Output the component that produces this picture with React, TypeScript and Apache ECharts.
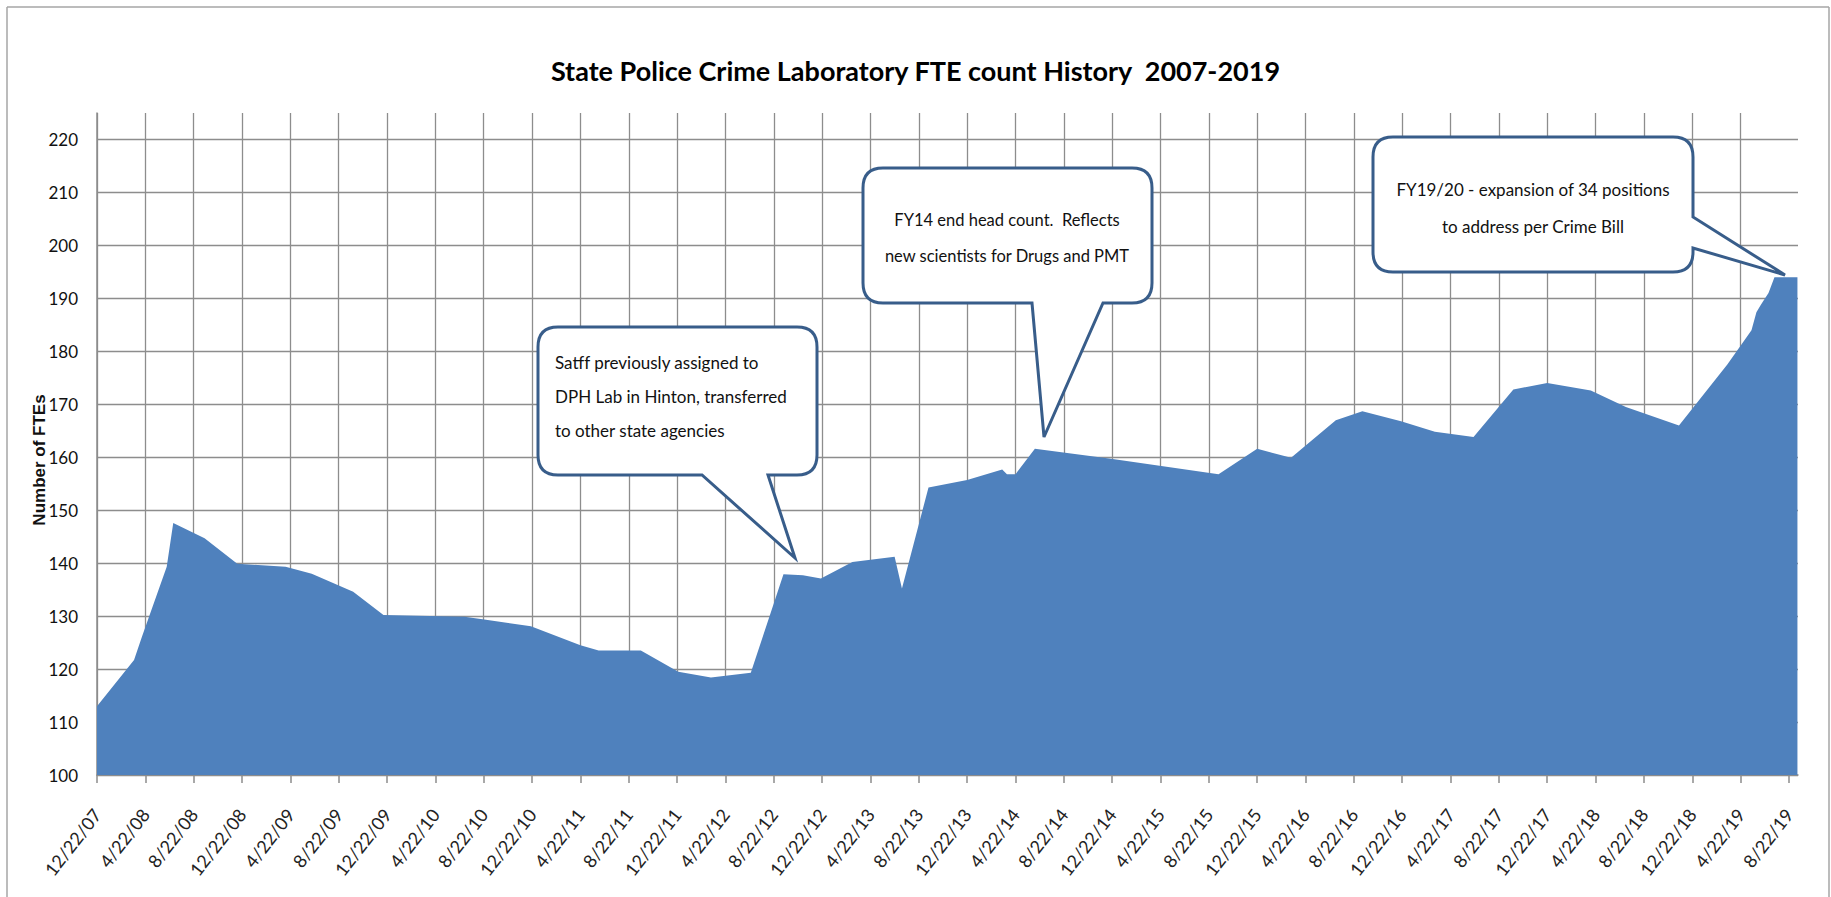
import React, { useEffect, useRef } from "react";
import * as echarts from "echarts";

// ---- Data ----
const DATES: string[] = [
  "2007-12-22", "2008-03-24", "2008-04-13", "2008-06-15", "2008-07-01", "2008-09-19",
  "2008-12-10", "2009-04-10", "2009-06-15", "2009-09-28", "2009-12-13", "2010-07-04",
  "2010-08-19", "2010-12-19", "2011-04-22", "2011-06-07", "2011-09-22", "2011-12-25",
  "2012-03-16", "2012-06-25", "2012-09-16", "2012-11-04", "2012-12-19", "2013-03-07",
  "2013-06-22", "2013-07-10", "2013-09-16", "2013-12-22", "2014-03-19", "2014-03-31",
  "2014-04-22", "2014-06-10", "2014-12-19", "2015-09-16", "2015-12-22", "2016-03-16",
  "2016-07-07", "2016-09-13", "2016-12-19", "2017-03-13", "2017-06-19", "2017-09-28",
  "2017-12-22", "2018-04-10", "2018-07-07", "2018-11-19", "2019-03-19", "2019-05-19",
  "2019-06-01", "2019-06-13", "2019-07-01", "2019-07-16", "2019-09-13",
];
const FTES: number[] = [
  113, 121.7, 126, 139.3, 147.6, 144.7,
  139.9, 139.3, 138.0, 134.6, 130.2, 129.9,
  129.4, 128.1, 124.5, 123.5, 123.5, 119.5,
  118.4, 119.3, 137.9, 137.7, 137.1, 140.2,
  141.2, 135.2, 154.3, 155.7, 157.7, 156.8,
  156.8, 161.6, 159.7, 156.8, 161.6, 159.9,
  167.0, 168.7, 166.8, 164.8, 163.8, 172.8,
  174.0, 172.6, 169.5, 166.0, 177.5, 184.0,
  187.4, 188.9, 191.0, 194.0, 194.0,
];
const X_TICK_LABELS: string[] = [
  "12/22/07", "4/22/08", "8/22/08", "12/22/08", "4/22/09", "8/22/09", "12/22/09",
  "4/22/10", "8/22/10", "12/22/10", "4/22/11", "8/22/11", "12/22/11", "4/22/12",
  "8/22/12", "12/22/12", "4/22/13", "8/22/13", "12/22/13", "4/22/14", "8/22/14",
  "12/22/14", "4/22/15", "8/22/15", "12/22/15", "4/22/16", "8/22/16", "12/22/16",
  "4/22/17", "8/22/17", "12/22/17", "4/22/18", "8/22/18", "12/22/18", "4/22/19",
  "8/22/19",
];
const Y_MIN = 100;
const Y_MAX = 225;
const Y_STEP = 10;
const X_STEP_MONTHS = 4;
const X_MAX_MONTHS = 140.75;

const TITLE = "State Police Crime Laboratory FTE count History  2007-2019";
const Y_NAME = "Number of FTEs";
const NOTE_1 = "Satff previously assigned to\nDPH Lab in Hinton, transferred\nto other state agencies";
const NOTE_2 = "FY14 end head count.  Reflects\nnew scientists for Drugs and PMT";
const NOTE_3 = "FY19/20 - expansion of 34 positions\nto address per Crime Bill";

// months elapsed since 12/22/2007
function monthsFrom(date: string): number {
  const [y, m, d] = date.split("-").map(Number);
  return (y - 2007) * 12 + (m - 12) + (d - 22) / 30.4;
}

type Callout = {
  l: number; t: number; r: number; b: number; rad: number;
  side: "bottom" | "right"; p1: number; p2: number; tx: number; ty: number;
};

function calloutPath(c: Callout): string {
  const { l, t, r, b, rad } = c;
  let d = `M${l + rad},${t} L${r - rad},${t} Q${r},${t} ${r},${t + rad}`;
  if (c.side === "right") d += ` L${r},${c.p1} L${c.tx},${c.ty} L${r},${c.p2}`;
  d += ` L${r},${b - rad} Q${r},${b} ${r - rad},${b}`;
  if (c.side === "bottom") d += ` L${c.p2},${b} L${c.tx},${c.ty} L${c.p1},${b}`;
  d += ` L${l + rad},${b} Q${l},${b} ${l},${b - rad} L${l},${t + rad} Q${l},${t} ${l + rad},${t} Z`;
  return d;
}

const CALLOUTS: Callout[] = [
  { l: 538, t: 327, r: 817, b: 475, rad: 20, side: "bottom", p1: 702, p2: 768, tx: 795, ty: 558 },
  { l: 863, t: 168, r: 1152, b: 303, rad: 20, side: "bottom", p1: 1032, p2: 1103, tx: 1044, ty: 437 },
  { l: 1373, t: 137, r: 1693, b: 272, rad: 20, side: "right", p1: 217, p2: 248, tx: 1785, ty: 275 },
];

export default function App() {
  const ref = useRef<HTMLDivElement>(null);

  useEffect(() => {
    if (!ref.current) return;
    CALLOUTS.forEach((c, i) => {
      echarts.graphic.registerShape(
        "callout" + (i + 1),
        echarts.graphic.extendPath(calloutPath(c), {}) as any
      );
    });
    const chart = echarts.init(ref.current, undefined, { renderer: "svg" });
    const grid = "#8d8d8d";
    const font = "Lato, 'Noto Sans', sans-serif";
    const data = DATES.map((d, i) => [monthsFrom(d), FTES[i]]);
    const xTickValues = X_TICK_LABELS.map((_, i) => i * X_STEP_MONTHS);

    const noteStyle = { fill: "#111", fontSize: 17, fontFamily: font, lineHeight: 35 };

    chart.setOption({
      animation: false,
      backgroundColor: "#ffffff",
      title: {
        text: TITLE,
        left: "center",
        top: 52,
        textStyle: { fontFamily: font, fontWeight: "bold", fontSize: 27, color: "#000" },
      },
      grid: { left: 97, top: 113, right: 33, bottom: 122, containLabel: false },
      xAxis: {
        type: "value",
        min: 0,
        max: X_MAX_MONTHS,
        interval: X_STEP_MONTHS,
        axisLine: { show: true, lineStyle: { color: grid, width: 1.5 } },
        axisTick: { show: true, length: 8, inside: false, customValues: xTickValues, lineStyle: { color: grid, width: 1.5 } },
        splitLine: { show: true, showMaxLine: false, lineStyle: { color: grid, width: 1.3 } },
        axisLabel: {
          customValues: xTickValues,
          rotate: 52,
          margin: 36,
          fontFamily: font,
          fontSize: 18,
          color: "#222",
          formatter: (v: number) => {
            const i = Math.round(v / X_STEP_MONTHS);
            return Math.abs(v - i * X_STEP_MONTHS) < 1e-6 && X_TICK_LABELS[i] ? X_TICK_LABELS[i] : "";
          },
        },
      },
      yAxis: {
        type: "value",
        min: Y_MIN,
        max: Y_MAX,
        interval: Y_STEP,
        axisLine: { show: true, lineStyle: { color: grid, width: 1.5 } },
        axisTick: { show: false },
        splitLine: { show: true, showMaxLine: false, lineStyle: { color: grid, width: 1.3 } },
        axisLabel: {
          margin: 19,
          fontFamily: font,
          fontSize: 17,
          color: "#111",
          formatter: (v: number) => (v % Y_STEP === 0 ? String(v) : ""),
        },
      },
      series: [
        {
          type: "line",
          data,
          showSymbol: false,
          symbol: "none",
          lineStyle: { width: 0 },
          areaStyle: { color: "#4F81BD", opacity: 1, origin: "start" },
          itemStyle: { color: "#4F81BD" },
          z: 3,
        },
      ],
      graphic: [
        { type: "line", shape: { x1: 7, y1: 7, x2: 7, y2: 897 }, style: { stroke: "#a6a6a6", lineWidth: 1.5 }, silent: true },
        { type: "line", shape: { x1: 7, y1: 7, x2: 1829, y2: 7 }, style: { stroke: "#a6a6a6", lineWidth: 1.5 }, silent: true },
        { type: "line", shape: { x1: 1829, y1: 7, x2: 1829, y2: 897 }, style: { stroke: "#a6a6a6", lineWidth: 1.5 }, silent: true },
        {
          type: "text",
          x: 39,
          y: 460,
          rotation: Math.PI / 2,
          style: {
            text: Y_NAME,
            fill: "#111",
            fontSize: 17,
            fontWeight: "bold",
            fontFamily: "'Liberation Sans', Arial, sans-serif",
            textAlign: "center",
            textVerticalAlign: "middle",
            align: "center",
            verticalAlign: "middle",
          },
        },
        ...CALLOUTS.map((_, i) => ({
          type: "callout" + (i + 1),
          x: 0,
          y: 0,
          z: 100,
          style: { fill: "#ffffff", stroke: "#385D8A", lineWidth: 3 },
        })),
        {
          type: "text", x: 555, y: 345, z: 101,
          style: { ...noteStyle, text: NOTE_1, textAlign: "left", align: "left", textVerticalAlign: "top", verticalAlign: "top", lineHeight: 34 },
        },
        {
          type: "text", x: 1007, y: 202, z: 101,
          style: { ...noteStyle, text: NOTE_2, fontSize: 16.5, textAlign: "center", align: "center", textVerticalAlign: "top", verticalAlign: "top", lineHeight: 36 },
        },
        {
          type: "text", x: 1533, y: 171, z: 101,
          style: { ...noteStyle, text: NOTE_3, textAlign: "center", align: "center", textVerticalAlign: "top", verticalAlign: "top", lineHeight: 37 },
        },
      ],
    });
    return () => chart.dispose();
  }, []);

  return (
    <div
      ref={ref}
      style={{ position: "absolute", left: 0, top: 0, width: 1831, height: 897, background: "#fff" }}
    />
  );
}
